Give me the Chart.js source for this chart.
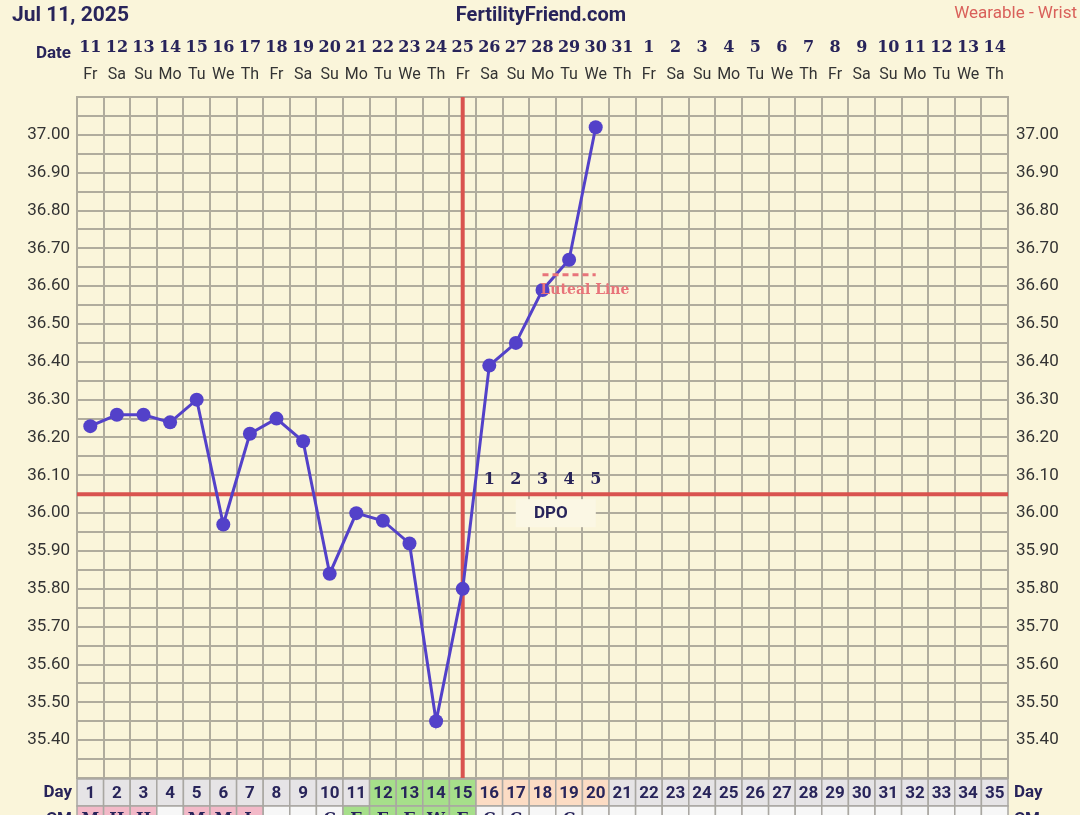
<!DOCTYPE html>
<html lang="en">
  <head>
    <meta charset="UTF-8" />
    <title>Fertility Chart</title>
    <script src="https://cdn.jsdelivr.net/npm/chart.js"></script>
    <style>
      html, body { margin: 0; padding: 0; background: #faf5da; }
      canvas { display: block; }
    </style>
  </head>
  <body>
    <canvas id="bbtChart" width="1080" height="815"></canvas>
    <script>
      // chart data
      const cycleDays = ["1","2","3","4","5","6","7","8","9","10","11","12","13","14","15","16","17","18","19","20","21","22","23","24","25","26","27","28","29","30","31","32","33","34","35"];
      const dates = ["11","12","13","14","15","16","17","18","19","20","21","22","23","24","25","26","27","28","29","30","31","1","2","3","4","5","6","7","8","9","10","11","12","13","14"];
      const weekdays = ["Fr","Sa","Su","Mo","Tu","We","Th","Fr","Sa","Su","Mo","Tu","We","Th","Fr","Sa","Su","Mo","Tu","We","Th","Fr","Sa","Su","Mo","Tu","We","Th","Fr","Sa","Su","Mo","Tu","We","Th"];
      const temps = [36.23, 36.26, 36.26, 36.24, 36.30, 35.97, 36.21, 36.25, 36.19, 35.84, 36.00, 35.98, 35.92, 35.45, 35.80, 36.39, 36.45, 36.59, 36.67, 37.02];
      const cmValues = ["M","H","H","","M","M","L","","","C","E","E","E","W","E","C","C","","C"];
      const dpoLabels = ["1","2","3","4","5"];
      const dpoStartDay = 16;
      const coverline = 36.05;
      const ovulationDay = 15;
      const lutealLevel = 36.63;
      const lutealDays = [18, 20];
      const yMin = 35.3;
      const yMax = 37.1;

      const navy = "#28245a";
      const red = "#d9534f";
      const gridColor = "#b0ac9d";

      function dayFill(d) {
        if (d >= 12 && d <= 15) return "#a6df8a";
        if (d >= 16 && d <= 20) return "#fcdcc4";
        return "#e6e4e6";
      }
      function cmFill(d) {
        if ((d >= 1 && d <= 3) || (d >= 5 && d <= 7)) return "#f3b9c8";
        if (d >= 11 && d <= 15) return "#a6df8a";
        return "#f7f7f7";
      }

      function tickLabel(v) {
        const h = Math.round(v * 100);
        if (h % 10 !== 0) return "";
        if (h <= 3530 || h >= 3710) return "";
        return (h / 100).toFixed(2);
      }

      const decorations = {
        id: "decorations",
        beforeDraw(chart) {
          const { ctx } = chart;
          ctx.save();
          ctx.fillStyle = "#faf5da";
          ctx.fillRect(0, 0, chart.width, chart.height);
          ctx.restore();
        },
        beforeDatasetsDraw(chart) {
          const { ctx, chartArea, scales } = chart;
          const x = scales.x, y = scales.y;
          ctx.save();
          // DPO label box
          const dpoX = (x.getPixelForValue(17) + x.getPixelForValue(18)) / 2;
          const dpoY = y.getPixelForValue(36.0);
          ctx.fillStyle = "#fbf7e4";
          ctx.fillRect(dpoX - 40, dpoY - 14, 80, 28);
          ctx.fillStyle = navy;
          ctx.font = "bold 17px Roboto";
          ctx.textAlign = "center";
          ctx.textBaseline = "middle";
          ctx.fillText("DPO", dpoX - 5, dpoY + 1);

          // coverline + ovulation line
          ctx.strokeStyle = red;
          ctx.lineWidth = 4;
          const cy = y.getPixelForValue(coverline);
          ctx.beginPath();
          ctx.moveTo(chartArea.left, cy);
          ctx.lineTo(chartArea.right, cy);
          ctx.stroke();
          const ox = x.getPixelForValue(ovulationDay - 1);
          ctx.beginPath();
          ctx.moveTo(ox, chartArea.top);
          ctx.lineTo(ox, chartArea.bottom);
          ctx.stroke();

          // DPO numbers
          ctx.fillStyle = navy;
          ctx.font = "bold 16px 'DejaVu Serif'";
          dpoLabels.forEach((t, i) => {
            ctx.fillText(t, x.getPixelForValue(dpoStartDay - 1 + i), cy - 14);
          });
          ctx.restore();
        },
        afterDatasetsDraw(chart) {
          const { ctx, scales } = chart;
          const x = scales.x, y = scales.y;
          ctx.save();
          // luteal line
          const ly = y.getPixelForValue(lutealLevel);
          ctx.strokeStyle = "#e8747a";
          ctx.lineWidth = 3;
          ctx.setLineDash([6, 4]);
          ctx.beginPath();
          ctx.moveTo(x.getPixelForValue(lutealDays[0] - 1), ly);
          ctx.lineTo(x.getPixelForValue(lutealDays[1] - 1), ly);
          ctx.stroke();
          ctx.setLineDash([]);
          ctx.fillStyle = "#e8747a";
          ctx.font = "bold 14px 'DejaVu Serif'";
          ctx.textAlign = "left";
          ctx.textBaseline = "middle";
          ctx.fillText("Luteal Line", x.getPixelForValue(lutealDays[0] - 1) - 2, ly + 16);
          ctx.restore();
        },
        afterDraw(chart) {
          const { ctx, chartArea, scales } = chart;
          const x = scales.x;
          const colW = (chartArea.right - chartArea.left) / cycleDays.length;
          ctx.save();
          ctx.textBaseline = "middle";

          // header
          ctx.fillStyle = navy;
          ctx.font = "bold 21px Roboto";
          ctx.textAlign = "left";
          ctx.fillText("Jul 11, 2025", 12, 16);
          ctx.font = "bold 20px Roboto";
          ctx.textAlign = "center";
          ctx.fillText("FertilityFriend.com", 541, 16);
          ctx.fillStyle = "#d9605a";
          ctx.font = "17px Roboto";
          ctx.textAlign = "right";
          ctx.fillText("Wearable - Wrist", 1077, 14);

          // date rows
          ctx.fillStyle = navy;
          ctx.font = "bold 17px Roboto";
          ctx.textAlign = "right";
          ctx.fillText("Date", 71, 54);
          ctx.textAlign = "center";
          dates.forEach((d, i) => {
            const cx = x.getPixelForValue(i);
            ctx.fillStyle = navy;
            ctx.font = "bold 16px 'DejaVu Serif'";
            ctx.fillText(d, cx, 48);
            ctx.fillStyle = "#333";
            ctx.font = "16px Roboto";
            ctx.fillText(weekdays[i], cx, 75);
          });

          // day + CM rows
          const rowTop = chartArea.bottom + 1;
          const rowH = 27;
          ctx.strokeStyle = "#a9a7a2";
          ctx.lineWidth = 1.5;
          cycleDays.forEach((d, i) => {
            const left = x.getPixelForValue(i) - colW / 2;
            ctx.fillStyle = dayFill(i + 1);
            ctx.fillRect(left, rowTop, colW, rowH);
            ctx.strokeRect(left, rowTop, colW, rowH);
            ctx.fillStyle = cmFill(i + 1);
            ctx.fillRect(left, rowTop + rowH, colW, rowH);
            ctx.strokeRect(left, rowTop + rowH, colW, rowH);
            ctx.fillStyle = navy;
            ctx.font = "bold 17px Roboto";
            ctx.fillText(d, x.getPixelForValue(i), rowTop + rowH / 2 + 1);
            if (cmValues[i]) {
              ctx.font = "bold 16px 'DejaVu Serif'";
              ctx.fillText(cmValues[i], x.getPixelForValue(i), rowTop + rowH + 14);
            }
          });
          ctx.font = "bold 17px Roboto";
          ctx.textAlign = "right";
          ctx.fillText("Day", 72, rowTop + rowH / 2);
          ctx.fillText("CM", 72, rowTop + rowH + 14);
          ctx.textAlign = "left";
          ctx.fillText("Day", chartArea.right + 6, rowTop + rowH / 2);
          ctx.fillText("CM", chartArea.right + 6, rowTop + rowH + 14);
          ctx.restore();
        },
      };

      const axisTicks = {
        stepSize: 0.05,
        autoSkip: false,
        maxTicksLimit: 100,
        color: "#333",
        font: { family: "Roboto", size: 17 },
        callback: (v) => tickLabel(v),
      };

      new Chart(document.getElementById("bbtChart"), {
        type: "line",
        data: {
          labels: cycleDays,
          datasets: [
            {
              data: temps,
              borderColor: "#5341c9",
              backgroundColor: "#5341c9",
              borderWidth: 3,
              pointRadius: 7,
              pointBackgroundColor: "#5341c9",
              pointBorderWidth: 0,
              tension: 0,
            },
          ],
        },
        options: {
          responsive: false,
          animation: false,
          layout: { padding: { top: 97, bottom: 37, left: 0, right: 0 } },
          plugins: { legend: { display: false }, tooltip: { enabled: false } },
          scales: {
            x: {
              type: "category",
              offset: true,
              grid: { offset: true, color: gridColor, lineWidth: 2, drawTicks: false },
              border: { display: false },
              ticks: { display: false },
              afterFit: (s) => { s.height = 0; },
            },
            y: {
              position: "left",
              min: yMin,
              max: yMax,
              grid: { color: gridColor, lineWidth: 2, drawTicks: false },
              border: { color: gridColor, width: 2 },
              ticks: { ...axisTicks, padding: 7 },
              afterFit: (s) => { s.width = 77; },
            },
            y2: {
              position: "right",
              min: yMin,
              max: yMax,
              grid: { display: false, drawTicks: false },
              border: { color: gridColor, width: 2 },
              ticks: { ...axisTicks, padding: 8 },
              afterFit: (s) => { s.width = 72; },
            },
          },
        },
        plugins: [decorations],
      });
    </script>
  </body>
</html>
